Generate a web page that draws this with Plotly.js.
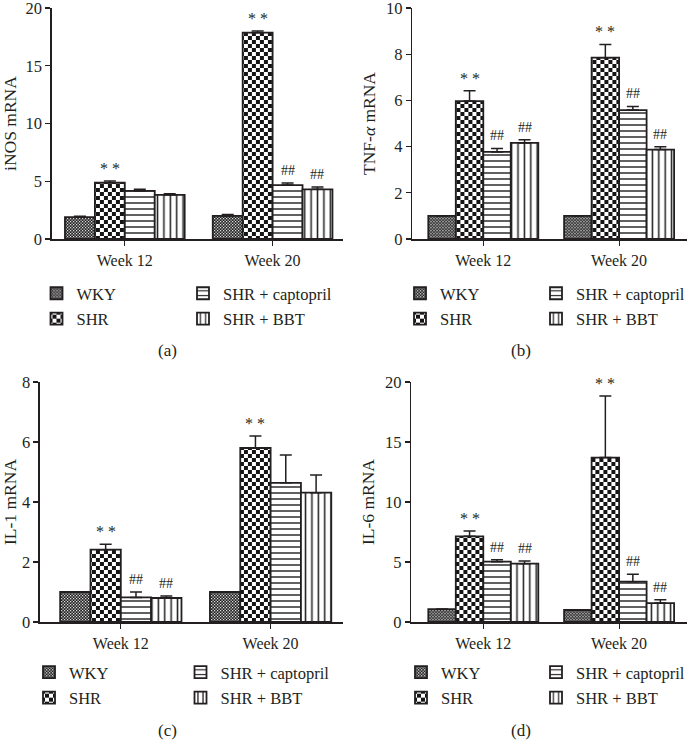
<!DOCTYPE html>
<html><head><meta charset="utf-8">
<script src="https://cdn.plot.ly/plotly-3.0.1.min.js"></script>
<style>body{margin:0;background:#fff}#chart{width:690px;height:753px}</style>
</head><body><div id="chart"></div>
<script>
// ---------- DATA ----------
const weeks = ["Week 12", "Week 20"];
const groupNames = ["WKY", "SHR", "SHR + captopril", "SHR + BBT"];

// (a) iNOS mRNA
const inosWKY = [1.9, 2.0],   inosWKYErr = [0.08, 0.12];
const inosSHR = [4.87, 17.86], inosSHRErr = [0.15, 0.14];
const inosCAP = [4.16, 4.67],  inosCAPErr = [0.15, 0.17];
const inosBBT = [3.82, 4.3],   inosBBTErr = [0.1, 0.2];
const inosMarks = [["", ""], ["**", "**"], ["", "##"], ["", "##"]];

// (b) TNF-alpha mRNA
const tnfWKY = [1.0, 1.0],   tnfWKYErr = [0, 0];
const tnfSHR = [5.97, 7.85], tnfSHRErr = [0.45, 0.57];
const tnfCAP = [3.77, 5.58], tnfCAPErr = [0.15, 0.16];
const tnfBBT = [4.16, 3.87], tnfBBTErr = [0.14, 0.12];
const tnfMarks = [["", ""], ["**", "**"], ["##", "##"], ["##", "##"]];

// (c) IL-1 mRNA
const il1WKY = [1.0, 1.0],   il1WKYErr = [0, 0];
const il1SHR = [2.41, 5.8],  il1SHRErr = [0.18, 0.4];
const il1CAP = [0.82, 4.64], il1CAPErr = [0.18, 0.93];
const il1BBT = [0.8, 4.31],  il1BBTErr = [0.07, 0.59];
const il1Marks = [["", ""], ["**", "**"], ["##", ""], ["##", ""]];

// (d) IL-6 mRNA
const il6WKY = [1.08, 1.0],  il6WKYErr = [0, 0];
const il6SHR = [7.14, 13.7], il6SHRErr = [0.44, 5.13];
const il6CAP = [5.03, 3.36], il6CAPErr = [0.16, 0.61];
const il6BBT = [4.86, 1.58], il6BBTErr = [0.22, 0.28];
const il6Marks = [["", ""], ["**", "**"], ["##", "##"], ["##", "##"]];

const panelLabels = ["(a)", "(b)", "(c)", "(d)"];
const yTitles = ["iNOS mRNA", "TNF-<i>α</i> mRNA", "IL-1 mRNA", "IL-6 mRNA"];

// ---------- LAYOUT / STYLE ----------
const W = 690, H = 753;
const px = v => v / W;
const py = v => 1 - v / H;
const TXT = '#231f20';
const FONT = 'Liberation Serif, Times New Roman, serif';
const BARGAP = 0.19;

const patterns = [
  {shape: 'x', size: 3.2, solidity: 0.55, fgcolor: '#111', bgcolor: '#fff', fillmode: 'replace'},
  {shape: 'x', size: 8, solidity: 0.5, fgcolor: '#111', bgcolor: '#fff', fillmode: 'replace'},
  {shape: '-', size: 6, solidity: 0.24, fgcolor: '#222', bgcolor: '#fff', fillmode: 'replace'},
  {shape: '|', size: 6.4, solidity: 0.24, fgcolor: '#222', bgcolor: '#fff', fillmode: 'replace'}
];

const panels = [
  {vals: [inosWKY, inosSHR, inosCAP, inosBBT], errs: [inosWKYErr, inosSHRErr, inosCAPErr, inosBBTErr], marks: inosMarks,
   xpx: [52, 343], ypx: [8, 239], cats: [125, 273], range: [0, 20], dtick: 5,
   legL: [58.5, 293], legR: [205, 293], label: [168, 350]},
  {vals: [tnfWKY, tnfSHR, tnfCAP, tnfBBT], errs: [tnfWKYErr, tnfSHRErr, tnfCAPErr, tnfBBTErr], marks: tnfMarks,
   xpx: [413, 688], ypx: [8, 239], cats: [484, 620], range: [0, 10], dtick: 2,
   legL: [422, 293], legR: [559, 293], label: [522, 350]},
  {vals: [il1WKY, il1SHR, il1CAP, il1BBT], errs: [il1WKYErr, il1SHRErr, il1CAPErr, il1BBTErr], marks: il1Marks,
   xpx: [40, 343], ypx: [382, 622], cats: [121, 271], range: [0, 8], dtick: 2,
   legL: [51, 672], legR: [202.5, 672], label: [168, 730]},
  {vals: [il6WKY, il6SHR, il6CAP, il6BBT], errs: [il6WKYErr, il6SHRErr, il6CAPErr, il6BBTErr], marks: il6Marks,
   xpx: [412, 688], ypx: [382, 622], cats: [484, 620], range: [0, 20], dtick: 5,
   legL: [423, 672], legR: [559, 672], label: [522, 730]}
];

const traces = [];
const layout = {
  width: W, height: H,
  margin: {l: 0, r: 0, t: 0, b: 0},
  paper_bgcolor: '#fff', plot_bgcolor: 'rgba(0,0,0,0)',
  barmode: 'group', bargap: BARGAP, bargroupgap: 0,
  font: {family: FONT, size: 15, color: TXT},
  showlegend: true,
  annotations: []
};

panels.forEach((p, pi) => {
  const n = pi + 1;
  const xa = 'x' + (n === 1 ? '' : n), ya = 'y' + (n === 1 ? '' : n);
  const xkey = 'xaxis' + (n === 1 ? '' : n), ykey = 'yaxis' + (n === 1 ? '' : n);
  const spacing = p.cats[1] - p.cats[0];
  const xr = [(p.xpx[0] - p.cats[0]) / spacing, (p.xpx[1] - p.cats[0]) / spacing];

  layout[xkey] = {
    domain: [px(p.xpx[0]), px(p.xpx[1])], anchor: ya, range: xr,
    type: 'category', showline: true, linecolor: '#231f20', linewidth: 1.5,
    ticks: 'outside', ticklen: 5, tickwidth: 1.2, tickcolor: '#231f20',
    showgrid: false, zeroline: false, fixedrange: true,
    tickfont: {family: FONT, size: 16, color: TXT}, ticklabelstandoff: 1
  };
  layout[ykey] = {
    domain: [py(p.ypx[1]), py(p.ypx[0])], anchor: xa, range: p.range, dtick: p.dtick,
    showline: true, linecolor: '#231f20', linewidth: 1.5,
    ticks: 'outside', ticklen: 5, tickwidth: 1.2, tickcolor: '#231f20',
    showgrid: false, zeroline: false, fixedrange: true, ticklabeloverflow: 'allow',
    tickfont: {family: FONT, size: 16.5, color: TXT},
    title: {text: yTitles[pi], font: {family: FONT, size: 17.5, color: TXT}, standoff: 6}
  };

  const legA = 'legend' + (2 * pi + 1 === 1 ? '' : (2 * pi + 1));
  const legB = 'legend' + (2 * pi + 2);
  [[legA, p.legL], [legB, p.legR]].forEach(([lk, pos]) => {
    layout[lk] = {
      x: px(pos[0] - 22), y: py(pos[1] - 17), xanchor: 'left', yanchor: 'top',
      orientation: 'v', traceorder: 'grouped', tracegroupgap: 1,
      bgcolor: 'rgba(0,0,0,0)', borderwidth: 0,
      font: {family: FONT, size: 16.5, color: TXT}, itemwidth: 30
    };
  });

  groupNames.forEach((g, gi) => {
    traces.push({
      type: 'bar', name: g, x: weeks, y: p.vals[gi], xaxis: xa, yaxis: ya,
      legend: gi === 0 || gi === 1 ? legA : legB,
      legendgroup: 'p' + n + 'g' + gi,
      marker: {color: '#fff', pattern: patterns[gi], line: {color: '#231f20', width: 1.8}},
      error_y: {type: 'data', symmetric: false, array: p.errs[gi], arrayminus: p.errs[gi].map(() => 0),
                visible: true, color: '#231f20', thickness: 1.5, width: 6},
      hoverinfo: 'skip'
    });
    // significance marks
    const group = 1 - BARGAP, bw = group / groupNames.length;
    const off = -group / 2 + (gi + 0.5) * bw;
    p.marks[gi].forEach((m, wi) => {
      if (!m) return;
      layout.annotations.push({
        xref: xa, yref: ya, x: wi + off, y: p.vals[gi][wi] + p.errs[gi][wi],
        text: m === '**' ? '* *' : '##', showarrow: false, yanchor: 'bottom', yshift: m === '**' ? 2 : 3,
        font: {family: FONT, size: m === '**' ? 16 : 14, color: TXT}
      });
    });
  });

  layout.annotations.push({
    xref: 'paper', yref: 'paper', x: px(p.label[0]), y: py(p.label[1]),
    text: panelLabels[pi], showarrow: false, xanchor: 'center', yanchor: 'middle',
    font: {family: FONT, size: 17, color: TXT}
  });
});

// Plotly has no checkerboard pattern: restyle the tiles of the two diagonal ('x') patterns
function checkerTiles() {
  const NS = 'http://www.w3.org/2000/svg';
  document.querySelectorAll('#chart pattern').forEach(pt => {
    const shapeEl = pt.querySelector('path');
    if (!shapeEl) return;
    const nums = ((shapeEl.getAttribute('d') || '').match(/-?\d*\.?\d+(?:e-?\d+)?/gi) || []).map(Number);
    if (nums.length < 4) return;
    const diagonal = Math.abs(nums[0] - nums[2]) > 1e-6 && Math.abs(nums[1] - nums[3]) > 1e-6;
    if (!diagonal) return; // horizontal / vertical line patterns stay as they are
    const w = parseFloat(pt.getAttribute('width'));
    const big = w > 6;
    const cell = big ? 4 : 1.5;
    while (pt.firstChild) pt.removeChild(pt.firstChild);
    pt.setAttribute('width', 2 * cell);
    pt.setAttribute('height', 2 * cell);
    pt.removeAttribute('patternTransform');
    const mk = (x, y, c, s) => {
      const r = document.createElementNS(NS, 'rect');
      r.setAttribute('x', x); r.setAttribute('y', y);
      r.setAttribute('width', s); r.setAttribute('height', s);
      r.setAttribute('fill', c);
      pt.appendChild(r);
    };
    if (big) {
      mk(0, 0, '#fff', 2 * cell);
      mk(0, 0, '#151515', cell);
      mk(cell, cell, '#151515', cell);
    } else {
      // fine, dark checker: small light cells on a dark ground
      mk(0, 0, '#1a1a1a', 2 * cell);
      mk(0, 0, '#e8e8e8', cell * 0.85);
      mk(cell, cell, '#e8e8e8', cell * 0.85);
    }
  });
}

Plotly.newPlot('chart', traces, layout, {displayModeBar: false, staticPlot: true}).then(checkerTiles);
</script></body></html>
